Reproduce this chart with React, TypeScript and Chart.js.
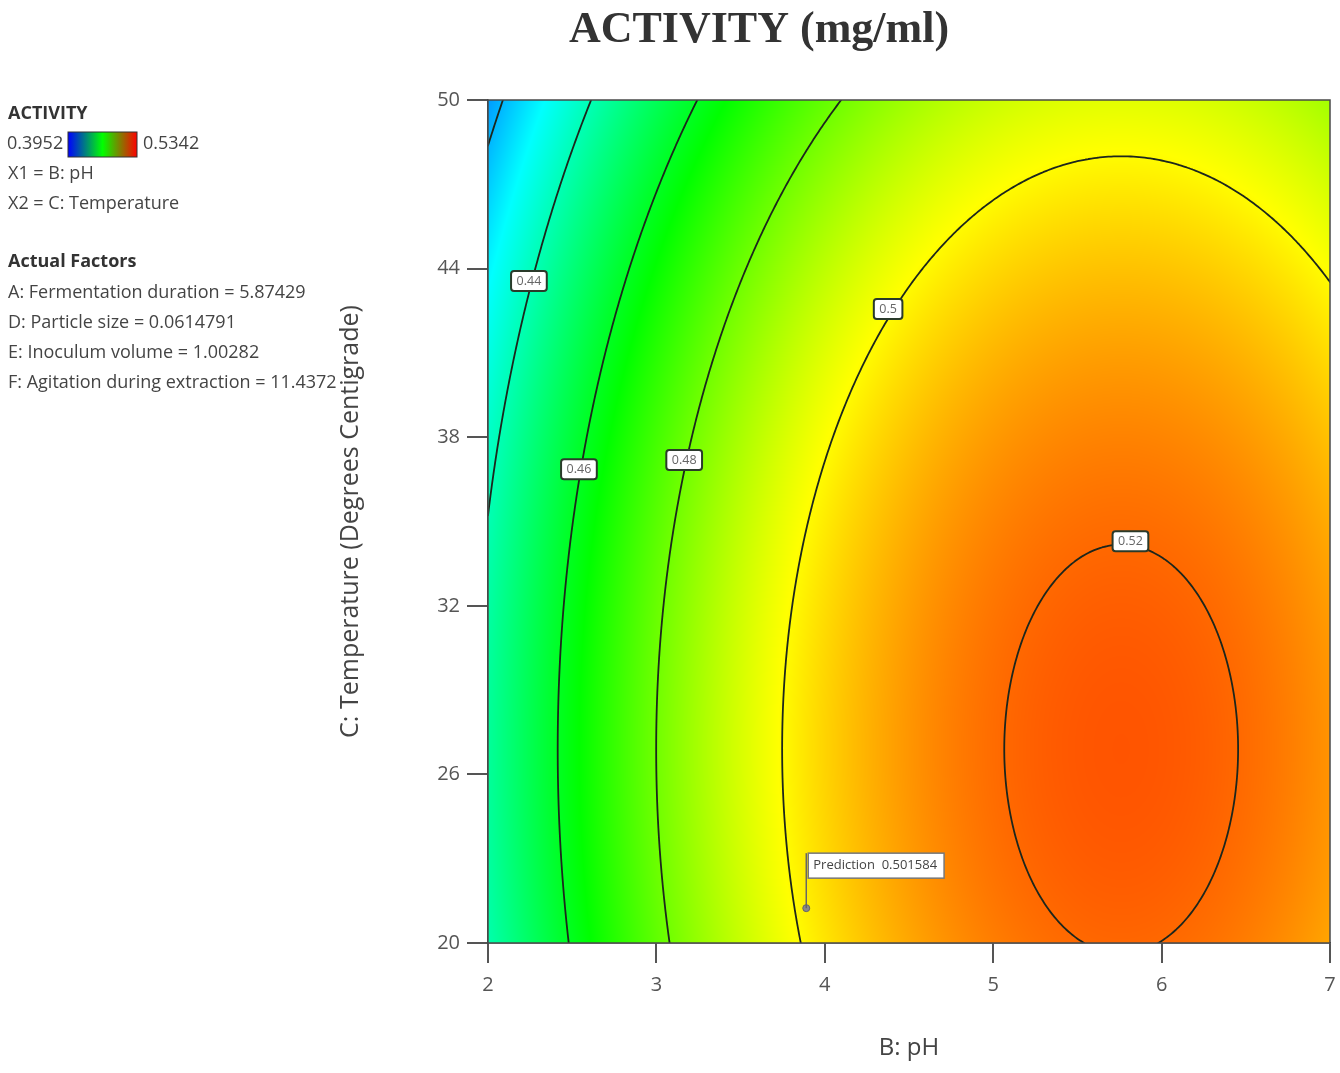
import React, { useEffect, useRef } from "react";
import { Chart, registerables } from "chart.js";

Chart.register(...registerables);

const W = 1340;
const H = 1073;

// ---- data ----
const phTicks = [2, 3, 4, 5, 6, 7];
const tempTicks = [20, 26, 32, 38, 44, 50];
const contourLevels = [0.42, 0.44, 0.46, 0.48, 0.5, 0.52];
const labelTexts = ["0.44", "0.46", "0.48", "0.5", "0.52"];
const labelPH = [2.243, 2.54, 3.165, 4.376, 5.815];
const labelTemp = [43.56, 36.86, 37.19, 42.56, 34.3];
// fitted quadratic response surface (peak value, centre, curvature)
const surfacePeak = 0.5227;
const surfaceCenter = [5.76, 26.9];
const surfaceCurvature = [0.0056, 0.000051];
const colorRange = [0.3952, 0.5342];
const predictionPH = [3.89];
const predictionTemp = [21.24];
const predictionText = "Prediction  0.501584";
const legendTitle = "ACTIVITY";
const legendLines = ["X1 = B: pH", "X2 = C: Temperature"];
const factorsTitle = "Actual Factors";
const actualFactors = [
  "A: Fermentation duration = 5.87429",
  "D: Particle size = 0.0614791",
  "E: Inoculum volume = 1.00282",
  "F: Agitation during extraction = 11.4372",
];
const chartTitle = "ACTIVITY (mg/ml)";
const xTitle = "B: pH";
const yTitle = "C: Temperature (Degrees Centigrade)";

const SANS = "'Open Sans', 'Noto Sans', sans-serif";

function surface(ph: number, t: number) {
  const dx = ph - surfaceCenter[0];
  const dy = t - surfaceCenter[1];
  return surfacePeak - surfaceCurvature[0] * dx * dx - surfaceCurvature[1] * dy * dy;
}

const stops = [
  [0, 0, 255],
  [0, 255, 255],
  [0, 255, 0],
  [255, 255, 0],
  [255, 0, 0],
];
function colorAt(v: number) {
  let t = (v - colorRange[0]) / (colorRange[1] - colorRange[0]);
  t = Math.max(0, Math.min(1, t));
  const s = t * 4;
  const i = Math.min(3, Math.floor(s));
  const f = s - i;
  return stops[i].map((c, k) => c + (stops[i + 1][k] - c) * f);
}

const heatmapPlugin = {
  id: "heatmap",
  beforeDatasetsDraw(chart: any) {
    const { ctx, chartArea: a, scales } = chart;
    const xs = scales.x;
    const ys = scales.y;
    const w = Math.round(a.right - a.left);
    const h = Math.round(a.bottom - a.top);
    const off = document.createElement("canvas");
    off.width = w;
    off.height = h;
    const octx = off.getContext("2d")!;
    const img = octx.createImageData(w, h);
    for (let py = 0; py < h; py++) {
      const T = ys.getValueForPixel(a.top + py + 0.5);
      for (let px = 0; px < w; px++) {
        const P = xs.getValueForPixel(a.left + px + 0.5);
        const c = colorAt(surface(P, T));
        const idx = (py * w + px) * 4;
        img.data[idx] = c[0];
        img.data[idx + 1] = c[1];
        img.data[idx + 2] = c[2];
        img.data[idx + 3] = 255;
      }
    }
    octx.putImageData(img, 0, 0);
    ctx.save();
    ctx.drawImage(off, a.left, a.top);
    ctx.restore();

    // contour lines (marching squares in data space)
    const nx = 300;
    const ny = 300;
    const x0 = xs.min, x1 = xs.max, y0 = ys.min, y1 = ys.max;
    const gx = (i: number) => x0 + ((x1 - x0) * i) / nx;
    const gy = (j: number) => y0 + ((y1 - y0) * j) / ny;
    const vals: number[][] = [];
    for (let j = 0; j <= ny; j++) {
      const row: number[] = [];
      for (let i = 0; i <= nx; i++) row.push(surface(gx(i), gy(j)));
      vals.push(row);
    }
    ctx.save();
    ctx.beginPath();
    ctx.rect(a.left, a.top, a.right - a.left, a.bottom - a.top);
    ctx.clip();
    ctx.strokeStyle = "#1c261c";
    ctx.lineWidth = 1.8;
    ctx.lineCap = "round";
    ctx.lineJoin = "round";
    for (const lvl of contourLevels) {
      ctx.beginPath();
      for (let j = 0; j < ny; j++) {
        for (let i = 0; i < nx; i++) {
          const c = [
            [gx(i), gy(j), vals[j][i]],
            [gx(i + 1), gy(j), vals[j][i + 1]],
            [gx(i + 1), gy(j + 1), vals[j + 1][i + 1]],
            [gx(i), gy(j + 1), vals[j + 1][i]],
          ];
          const pts: number[][] = [];
          for (let e = 0; e < 4; e++) {
            const p = c[e];
            const q = c[(e + 1) % 4];
            if ((p[2] - lvl) * (q[2] - lvl) < 0) {
              const f = (lvl - p[2]) / (q[2] - p[2]);
              pts.push([p[0] + (q[0] - p[0]) * f, p[1] + (q[1] - p[1]) * f]);
            }
          }
          for (let k = 0; k + 1 < pts.length; k += 2) {
            ctx.moveTo(xs.getPixelForValue(pts[k][0]), ys.getPixelForValue(pts[k][1]));
            ctx.lineTo(xs.getPixelForValue(pts[k + 1][0]), ys.getPixelForValue(pts[k + 1][1]));
          }
        }
      }
      ctx.stroke();
    }
    ctx.restore();

    // contour labels
    ctx.save();
    ctx.font = `12.5px ${SANS}`;
    ctx.textAlign = "center";
    ctx.textBaseline = "middle";
    labelTexts.forEach((txt, k) => {
      const px = xs.getPixelForValue(labelPH[k]);
      const py = ys.getPixelForValue(labelTemp[k]);
      const tw = ctx.measureText(txt).width + 11;
      const th = 20;
      ctx.beginPath();
      (ctx as any).roundRect(px - tw / 2, py - th / 2, tw, th, 3);
      ctx.fillStyle = "#ffffff";
      ctx.fill();
      ctx.strokeStyle = "#2a3a2a";
      ctx.lineWidth = 2;
      ctx.stroke();
      ctx.fillStyle = "#666";
      ctx.fillText(txt, px, py + 0.5);
    });
    ctx.restore();

    // plot frame
    ctx.save();
    ctx.strokeStyle = "#4a4a4a";
    ctx.lineWidth = 1.5;
    ctx.strokeRect(a.left, a.top, a.right - a.left, a.bottom - a.top);
    ctx.restore();
  },
  afterDatasetsDraw(chart: any) {
    const { ctx, scales } = chart;
    const px = scales.x.getPixelForValue(predictionPH[0]);
    const py = scales.y.getPixelForValue(predictionTemp[0]);
    ctx.save();
    ctx.font = `13px ${SANS}`;
    const tw = ctx.measureText(predictionText).width + 12;
    const bx = px + 2;
    const by = py - 55;
    ctx.strokeStyle = "#666";
    ctx.lineWidth = 1.5;
    ctx.beginPath();
    ctx.moveTo(px, py);
    ctx.lineTo(px, by);
    ctx.stroke();
    ctx.fillStyle = "#fff";
    ctx.fillRect(bx, by, tw, 25);
    ctx.strokeStyle = "#777";
    ctx.strokeRect(bx, by, tw, 25);
    ctx.fillStyle = "#444";
    ctx.textBaseline = "middle";
    ctx.textAlign = "left";
    ctx.fillText(predictionText, bx + 5, by + 12.5);
    ctx.restore();
  },
  afterDraw(chart: any) {
    const { ctx } = chart;
    ctx.save();
    // main title
    ctx.fillStyle = "#333";
    ctx.font = "bold 44px 'Liberation Serif', serif";
    ctx.textAlign = "center";
    ctx.textBaseline = "alphabetic";
    ctx.fillText(chartTitle, 759, 42);

    // left legend
    ctx.textAlign = "left";
    ctx.textBaseline = "middle";
    ctx.fillStyle = "#333";
    ctx.font = `bold 18px ${SANS}`;
    ctx.fillText(legendTitle, 8, 114);
    ctx.font = `18px ${SANS}`;
    ctx.fillStyle = "#444";
    ctx.fillText(colorRange[0].toFixed(4), 7, 144);
    const g = ctx.createLinearGradient(68, 0, 137, 0);
    g.addColorStop(0, "#0000ff");
    g.addColorStop(0.5, "#00ff00");
    g.addColorStop(1, "#ff0000");
    ctx.fillStyle = g;
    ctx.fillRect(68, 132, 69, 25);
    ctx.strokeStyle = "#333";
    ctx.lineWidth = 1;
    ctx.strokeRect(68, 132, 69, 25);
    ctx.fillStyle = "#444";
    ctx.fillText(colorRange[1].toFixed(4), 143, 144);
    legendLines.forEach((s, i) => ctx.fillText(s, 8, 174 + i * 30));
    ctx.fillStyle = "#333";
    ctx.font = `bold 18px ${SANS}`;
    ctx.fillText(factorsTitle, 8, 262);
    ctx.font = `18px ${SANS}`;
    ctx.fillStyle = "#444";
    actualFactors.forEach((s, i) => ctx.fillText(s, 8, 293 + i * 30));
    ctx.restore();
  },
};

export default function App() {
  const ref = useRef<HTMLCanvasElement>(null);
  useEffect(() => {
    const chart = new Chart(ref.current!, {
      type: "scatter",
      data: {
        datasets: [
          {
            label: "Prediction",
            data: predictionPH.map((p, i) => ({ x: p, y: predictionTemp[i] })),
            pointRadius: 3.5,
            pointBackgroundColor: "#8a8a8a",
            pointBorderColor: "#666",
            pointBorderWidth: 1,
          },
        ],
      },
      options: {
        responsive: false,
        animation: false,
        devicePixelRatio: 1,
        layout: { padding: { left: 336, right: 10, top: 100, bottom: 10.6 } },
        plugins: {
          legend: { display: false },
          title: { display: false },
          tooltip: { enabled: false },
        },
        scales: {
          x: {
            type: "linear",
            min: phTicks[0],
            max: phTicks[phTicks.length - 1],
            afterBuildTicks: (s: any) => {
              s.ticks = phTicks.map((v) => ({ value: v }));
            },
            afterFit: (s: any) => {
              s.height = 119.4;
              s.paddingRight = 6;
              s.paddingLeft = 6;
            },
            ticks: {
              padding: 10,
              color: "#555",
              font: { family: SANS, size: 20 },
              maxRotation: 0,
            },
            grid: {
              display: true,
              drawOnChartArea: false,
              drawTicks: true,
              tickLength: 20,
              color: "#555",
              lineWidth: 2,
            },
            border: { display: true, color: "#444", width: 1.5 },
            title: {
              display: true,
              text: xTitle,
              color: "#444",
              font: { family: SANS, size: 24 },
              padding: { top: 0, bottom: 0 },
            },
          },
          y: {
            type: "linear",
            min: tempTicks[0],
            max: tempTicks[tempTicks.length - 1],
            afterBuildTicks: (s: any) => {
              s.ticks = tempTicks.map((v) => ({ value: v }));
            },
            afterFit: (s: any) => {
              s.width = 152;
            },
            ticks: {
              padding: 7,
              color: "#555",
              font: { family: SANS, size: 20 },
            },
            grid: {
              display: true,
              drawOnChartArea: false,
              drawTicks: true,
              tickLength: 21,
              color: "#555",
              lineWidth: 2,
            },
            border: { display: true, color: "#444", width: 1.5 },
            title: {
              display: true,
              text: yTitle,
              color: "#444",
              font: { family: SANS, size: 25 },
              padding: { top: 0, bottom: 0 },
            },
          },
        },
      },
      plugins: [heatmapPlugin],
    } as any);
    return () => chart.destroy();
  }, []);
  return (
    <div style={{ position: "fixed", left: 0, top: 0, width: W, height: H, background: "#fff" }}>
      <canvas ref={ref} width={W} height={H} style={{ display: "block", width: W, height: H }} />
    </div>
  );
}
